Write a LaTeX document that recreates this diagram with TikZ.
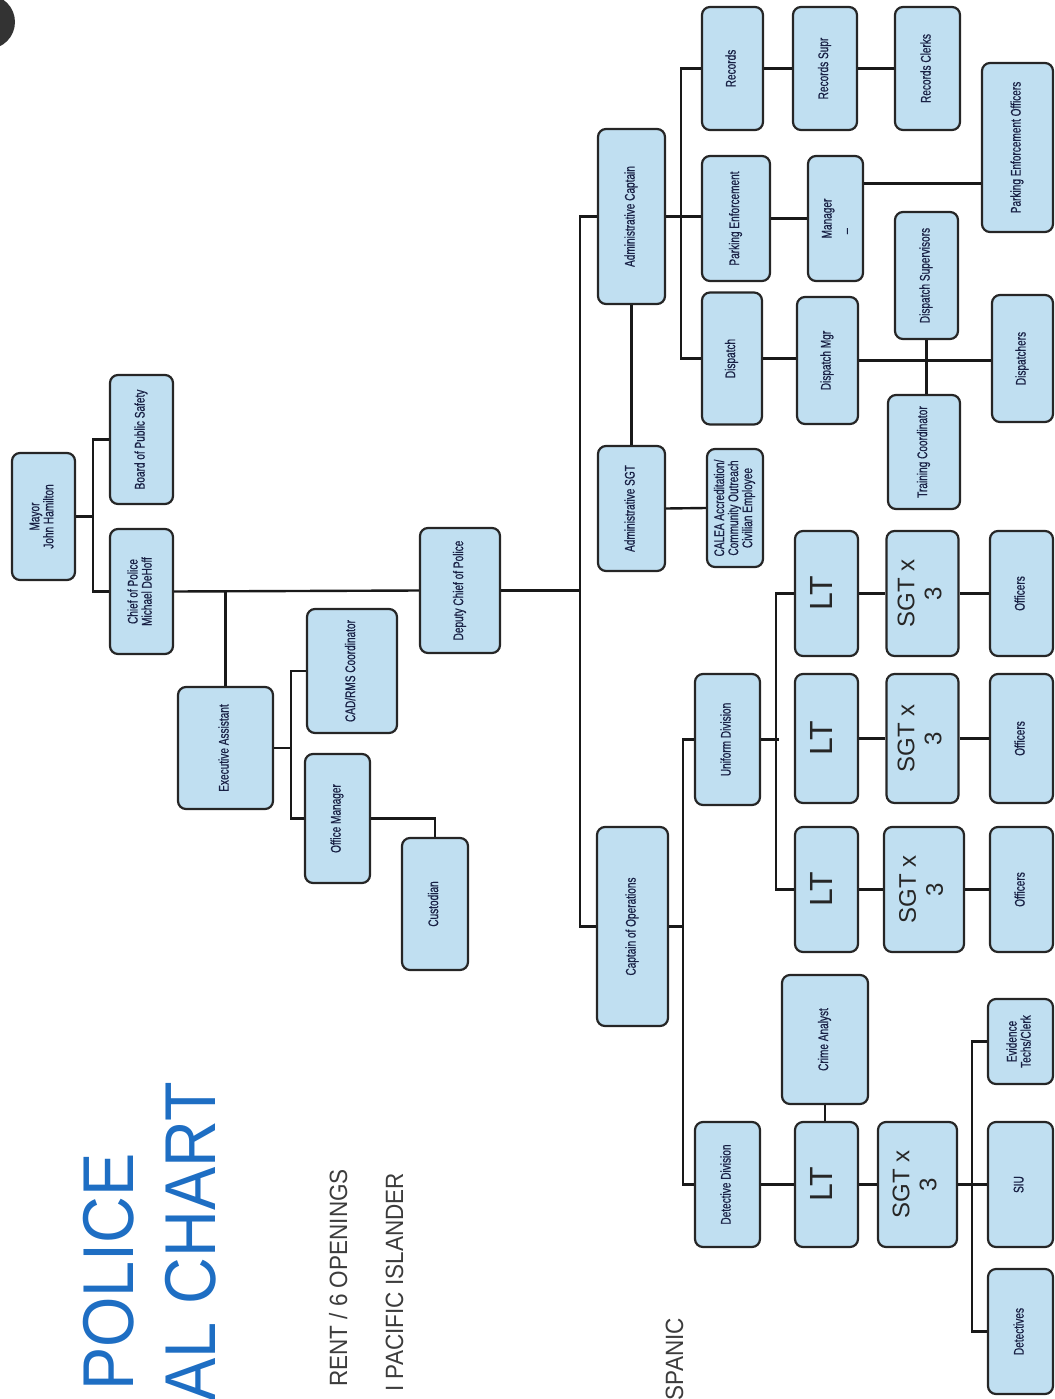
\documentclass[tikz,border=0pt]{standalone}
\usepackage{fontspec}
\usepackage{graphicx}
\setmainfont{Liberation Sans}
\newfontfamily\boxfont[FakeStretch=0.72,FakeBold=0.6]{Liberation Sans}
\newfontfamily\headfont[FakeStretch=0.9]{Liberation Sans}
\definecolor{boxblue}{RGB}{192,223,241}
\definecolor{boxtext}{RGB}{24,32,68}
\definecolor{titleblue}{RGB}{30,110,195}
\definecolor{notegray}{RGB}{60,60,60}
\newcommand{\vt}[1]{\rotatebox{90}{\begin{tabular}{@{}c@{}}#1\end{tabular}}}
\tikzset{
  unit/.style={draw=black!85, line width=2.2pt, rounded corners=8pt, fill=boxblue,
    inner sep=0pt, text=boxtext, font=\boxfont\fontsize{14}{13}\selectfont},
  wh/.style 2 args={minimum width=#1pt, minimum height=#2pt},
  rank/.style={font=\fontsize{32}{32}\selectfont, text=black!85},
  sgt/.style={font=\fontsize{24}{27}\selectfont, text=black!85},
  link/.style={line width=2.4pt, draw=black!90},
  headline/.style={rotate=90, anchor=base east, inner sep=0pt, text=titleblue,
    font=\headfont\fontsize{72}{72}\selectfont},
  noteline/.style={rotate=90, anchor=base east, inner sep=0pt, text=notegray,
    font=\headfont\fontsize{25}{25}\selectfont}
}
\begin{document}
\begin{tikzpicture}[x=1pt,y=-1pt]
\useasboundingbox (0,0) rectangle (1054,1399);
\fill[black!80] (-12,22) circle (27);

% title, cut at the page edge
\node[headline] (title1) at (133,1153) {POLICE};
\node[headline] (title2) at (215,1082) {AL CHART};
\node[noteline] (note1) at (347,1169) {RENT / 6 OPENINGS};
\node[noteline] (note2) at (403,1173) {I PACIFIC ISLANDER};
\node[noteline] (note3) at (683,1318) {SPANIC};

% top
\node[unit, wh={63}{127}] (mayor) at (43.5,516.5) {\vt{Mayor\\John Hamilton}};
\node[unit, wh={63}{129}] (board) at (141.5,439.5) {\vt{Board of Public Safety}};
\node[unit, wh={63}{125}] (chief) at (141.5,591.5) {\vt{Chief of Police\\Michael DeHoff}};
\node[unit, wh={80}{125}] (deputy) at (460,590.5) {\vt{Deputy Chief of Police}};
\node[unit, wh={95}{122}] (exec) at (225.5,748) {\vt{Executive Assistant}};
\node[unit, wh={90}{124}] (cad) at (352,671) {\vt{CAD/RMS Coordinator}};
\node[unit, wh={65}{129}] (office) at (337.5,818.5) {\vt{Office Manager}};
\node[unit, wh={66}{132}] (custodian) at (435,904) {\vt{Custodian}};

% administration
\node[unit, wh={67}{175}] (admcpt) at (631.5,216.5) {\vt{Administrative Captain}};
\node[unit, wh={67}{125}] (admsgt) at (631.5,508.5) {\vt{Administrative SGT}};
\node[unit, wh={56}{118}] (calea) at (735,508) {\vt{CALEA Accreditation/\\Community Outreach\\Civilian Employee}};
\node[unit, wh={61}{123}] (records) at (732.5,68.5) {\vt{Records}};
\node[unit, wh={64}{123}] (recsupr) at (825,68.5) {\vt{Records Supr}};
\node[unit, wh={65}{123}] (recclerk) at (927.5,68.5) {\vt{Records Clerks}};
\node[unit, wh={68}{125}] (parking) at (736,218.5) {\vt{Parking Enforcement}};
\node[unit, wh={55}{125}] (manager) at (835.5,218.5) {\vt{Manager\\\_\phantom{Mana}}};
\node[unit, wh={71}{169}] (peo) at (1017.5,147.5) {\vt{Parking Enforcement Officers}};
\node[unit, wh={60}{132}] (dispatch) at (732,358.5) {\vt{Dispatch}};
\node[unit, wh={61}{127}] (dispmgr) at (827.5,360.5) {\vt{Dispatch Mgr}};
\node[unit, wh={63}{127}] (dispsup) at (926.5,275.5) {\vt{Dispatch Supervisors}};
\node[unit, wh={72}{114}] (training) at (924,452) {\vt{Training Coordinator}};
\node[unit, wh={61}{127}] (dispatchers) at (1022.5,358.5) {\vt{Dispatchers}};

% operations
\node[unit, wh={71}{199}] (ops) at (632.5,926.5) {\vt{Captain of Operations}};
\node[unit, wh={65}{131}] (uniform) at (727.5,739.5) {\vt{Uniform Division}};
\node[unit, wh={65}{125}] (detdiv) at (727.5,1184.5) {\vt{Detective Division}};
\node[unit, rank, wh={63}{125}] (lta) at (826.5,593.5) {\vt{LT}};
\node[unit, rank, wh={63}{129}] (ltb) at (826.5,738.5) {\vt{LT}};
\node[unit, rank, wh={63}{125}] (ltc) at (826.5,889.5) {\vt{LT}};
\node[unit, sgt, wh={72}{125}] (sgta) at (922.5,593.5) {\vt{SGT x\\3}};
\node[unit, sgt, wh={72}{129}] (sgtb) at (922.5,738.5) {\vt{SGT x\\3}};
\node[unit, sgt, wh={80}{125}] (sgtc) at (924,889.5) {\vt{SGT x\\3}};
\node[unit, wh={63}{125}] (offa) at (1021.5,593.5) {\vt{Officers}};
\node[unit, wh={63}{129}] (offb) at (1021.5,738.5) {\vt{Officers}};
\node[unit, wh={63}{125}] (offc) at (1021.5,889.5) {\vt{Officers}};
\node[unit, wh={86}{129}] (analyst) at (825,1039.5) {\vt{Crime Analyst}};
\node[unit, rank, wh={63}{125}] (ltd) at (826.5,1184.5) {\vt{LT}};
\node[unit, sgt, wh={79}{125}] (sgtd) at (917.5,1184.5) {\vt{SGT x\\3}};
\node[unit, wh={65}{85}] (evidence) at (1020.5,1041.5) {\vt{Evidence\\Techs/Clerk}};
\node[unit, wh={65}{125}] (siu) at (1020.5,1184.5) {\vt{SIU}};
\node[unit, wh={65}{125}] (detectives) at (1020.5,1331.5) {\vt{Detectives}};

\coordinate (trunk) at (580,0);

% connectors
\draw[link] (mayor.east) -- ++(17,0) |- (board.west);
\draw[link] (mayor.east) -- ++(17,0) |- (chief.west);
\draw[link] (chief.east) -- (deputy.west);
\draw[link] (chief.east -| exec.north) -- (exec.north);
\draw[link] (exec.east) -- ++(17,0) |- (cad.west);
\draw[link] (exec.east) -- ++(17,0) |- (office.west);
\draw[link] (office.east) -| (custodian.north);
\draw[link] (deputy.east) -- (deputy.east -| trunk);
\draw[link] (admcpt.west) -| (trunk |- ops.west) -- (ops.west);
\draw[link] (admcpt.south) -- (admsgt.north);
\draw[link] (admsgt.east) -- (calea.west);
\draw[link] (admcpt.east) -- ++(15,0) |- (records.west);
\draw[link] (admcpt.east) -- ++(15,0) |- (dispatch.west);
\draw[link] (admcpt.east) -- (admcpt.east -| parking.west);
\draw[link] (records.east) -- (recsupr.west);
\draw[link] (recsupr.east) -- (recclerk.west);
\draw[link] (parking.east) -- (manager.west);
\draw[link] ([yshift=35pt]manager.east) -- ([yshift=35pt]manager.east -| peo.west);
\draw[link] (dispatch.east) -- (dispatch.east -| dispmgr.west);
\draw[link] (dispmgr.east) -- (dispmgr.east -| dispatchers.west);
\draw[link] (dispsup.south) -- (dispsup.south |- training.north);
\draw[link] (uniform.west) -| ([xshift=14pt]ops.east) |- (detdiv.west);
\draw[link] (ops.east) -- ++(14,0);
\draw[link] (uniform.east) -- ++(18,0);
\draw[link] (lta.west) -- ++(-18,0) |- (ltc.west);
\draw[link] (lta.east) -- (sgta.west);
\draw[link] (sgta.east) -- (offa.west);
\draw[link] (ltb.east) -- (sgtb.west);
\draw[link] (sgtb.east) -- (offb.west);
\draw[link] (ltc.east) -- (sgtc.west);
\draw[link] (sgtc.east) -- (offc.west);
\draw[link] (detdiv.east) -- (ltd.west);
\draw[link] (analyst.south) -- (analyst.south |- ltd.north);
\draw[link] (ltd.east) -- (sgtd.west);
\draw[link] (sgtd.east) -- (siu.west);
\draw[link] (evidence.west) -- ++(-15,0) |- (detectives.west);
\end{tikzpicture}
\end{document}
